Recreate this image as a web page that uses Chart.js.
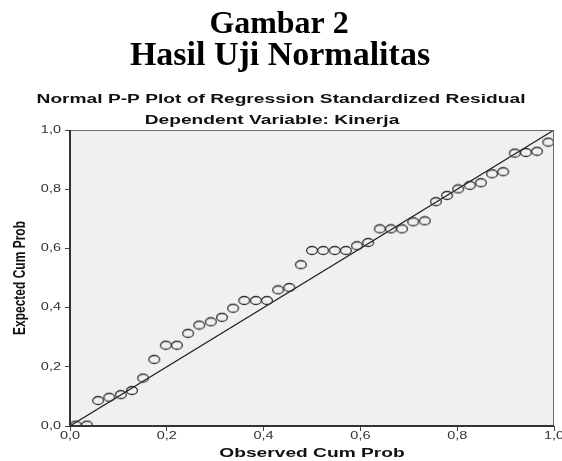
<!DOCTYPE html>
<html>
<head>
<meta charset="utf-8">
<script src="https://cdn.jsdelivr.net/npm/chart.js@4.4.1/dist/chart.umd.min.js"></script>
<style>
  html, body { margin: 0; padding: 0; background: #fff; }
  #wrap { width: 562px; height: 461px; position: relative; }
</style>
</head>
<body>
<div id="wrap"><canvas id="ppChart" width="562" height="461"></canvas></div>
<script>
// observed cumulative probability (x) and expected cumulative probability (y)
const observedProb = [
  0.012, 0.035, 0.058, 0.081, 0.105, 0.128, 0.151, 0.174, 0.198, 0.221,
  0.244, 0.267, 0.291, 0.314, 0.337, 0.360, 0.384, 0.407, 0.430, 0.453,
  0.477, 0.500, 0.523, 0.547, 0.570, 0.593, 0.616, 0.640, 0.663, 0.686,
  0.709, 0.733, 0.756, 0.779, 0.802, 0.826, 0.849, 0.872, 0.895, 0.919,
  0.942, 0.965, 0.988
];
const expectedProb = [
  0.003, 0.003, 0.086, 0.097, 0.106, 0.120, 0.162, 0.225, 0.273, 0.273,
  0.313, 0.341, 0.352, 0.367, 0.398, 0.424, 0.424, 0.424, 0.460, 0.468,
  0.545, 0.593, 0.593, 0.593, 0.593, 0.609, 0.620, 0.666, 0.666, 0.666,
  0.690, 0.693, 0.758, 0.779, 0.801, 0.813, 0.822, 0.852, 0.859, 0.922,
  0.924, 0.928, 0.959
];
const refLine = [0, 1];
const tickValues = [0, 0.2, 0.4, 0.6, 0.8, 1.0];

const headingLines = ['Gambar 2', 'Hasil Uji Normalitas'];
const subtitleLines = ['Normal P-P Plot of Regression Standardized Residual', 'Dependent Variable: Kinerja'];
const xTitle = 'Observed Cum Prob';
const yTitle = 'Expected Cum Prob';

const points = observedProb.map((x, i) => ({ x: x, y: expectedProb[i] }));
const diagonal = refLine.map(v => ({ x: v, y: v }));

const fmtTick = v => v.toFixed(1).replace('.', ',');
const SANS = '"Liberation Sans", Arial, sans-serif';
const SERIF = '"Liberation Serif", "Times New Roman", serif';

// the SPSS graphic is stretched sideways, so markers are ellipses
function makeMarker() {
  const c = document.createElement('canvas');
  c.width = 14;
  c.height = 11;
  const g = c.getContext('2d');
  g.strokeStyle = '#333';
  g.lineWidth = 1.3;
  g.beginPath();
  g.ellipse(7, 5.5, 5.4, 4, 0, 0, Math.PI * 2);
  g.stroke();
  return c;
}

// text drawn with a horizontal stretch factor
function stretchText(ctx, text, x, y, font, sx, align, baseline) {
  ctx.save();
  ctx.translate(x, y);
  ctx.scale(sx, 1);
  ctx.font = font;
  ctx.textAlign = align || 'center';
  ctx.textBaseline = baseline || 'alphabetic';
  ctx.fillText(text, 0, 0);
  ctx.restore();
}

const decorations = {
  id: 'decorations',
  beforeDatasetsDraw(chart) {
    const a = chart.chartArea, ctx = chart.ctx;
    ctx.save();
    ctx.fillStyle = '#f0f0f0';
    ctx.fillRect(a.left, a.top, a.right - a.left, a.bottom - a.top);
    ctx.restore();
  },
  afterDraw(chart) {
    const a = chart.chartArea, ctx = chart.ctx;
    const xs = chart.scales.x, ys = chart.scales.y;

    // frame
    ctx.save();
    ctx.strokeStyle = '#6a6a6a';
    ctx.lineWidth = 1;
    ctx.beginPath();
    ctx.moveTo(a.left, a.top + 0.5);
    ctx.lineTo(a.right - 0.5, a.top + 0.5);
    ctx.lineTo(a.right - 0.5, a.bottom);
    ctx.stroke();
    ctx.strokeStyle = '#333';
    ctx.lineWidth = 2;
    ctx.beginPath();
    ctx.moveTo(a.left, a.top);
    ctx.lineTo(a.left, a.bottom);
    ctx.lineTo(a.right, a.bottom);
    ctx.stroke();
    ctx.restore();

    // headings
    ctx.save();
    ctx.fillStyle = '#000';
    stretchText(ctx, headingLines[0], 279, 33, 'bold 31px ' + SERIF, 1.03);
    stretchText(ctx, headingLines[1], 280, 65, 'bold 33px ' + SERIF, 1.03);
    ctx.fillStyle = '#111';
    stretchText(ctx, subtitleLines[0], 281, 103, 'bold 13.5px ' + SANS, 1.42);
    stretchText(ctx, subtitleLines[1], 272, 124, 'bold 13.5px ' + SANS, 1.42);

    // tick labels
    ctx.fillStyle = '#333';
    tickValues.forEach(v => {
      stretchText(ctx, fmtTick(v), xs.getPixelForValue(v), 439, '10.5px ' + SANS, 1.38, 'center');
      stretchText(ctx, fmtTick(v), 61, ys.getPixelForValue(v), '10.5px ' + SANS, 1.38, 'right', 'middle');
    });

    // axis titles
    ctx.fillStyle = '#111';
    stretchText(ctx, xTitle, (a.left + a.right) / 2, 457, 'bold 13.5px ' + SANS, 1.42);
    ctx.save();
    ctx.translate(20, (a.top + a.bottom) / 2);
    ctx.scale(1.4, 1);
    ctx.rotate(-Math.PI / 2);
    ctx.font = 'bold 12px ' + SANS;
    ctx.textAlign = 'center';
    ctx.textBaseline = 'middle';
    ctx.fillText(yTitle, 0, 0);
    ctx.restore();
    ctx.restore();
  }
};

new Chart(document.getElementById('ppChart'), {
  type: 'scatter',
  data: {
    datasets: [
      {
        label: 'Residual',
        data: points,
        pointStyle: makeMarker(),
        pointRadius: 5
      },
      {
        type: 'line',
        label: 'Diagonal',
        data: diagonal,
        borderColor: '#222',
        borderWidth: 1.2,
        pointRadius: 0,
        fill: false
      }
    ]
  },
  options: {
    responsive: false,
    animation: false,
    layout: { padding: { top: 130, right: 8, left: 0, bottom: 0 } },
    plugins: {
      legend: { display: false },
      tooltip: { enabled: false }
    },
    scales: {
      x: {
        type: 'linear',
        min: 0,
        max: 1,
        afterBuildTicks: s => { s.ticks = tickValues.map(v => ({ value: v })); },
        afterFit: s => { s.height = 35; },
        ticks: { display: false },
        grid: { display: true, drawOnChartArea: false, drawTicks: true, tickLength: 5, color: '#444' },
        border: { display: false }
      },
      y: {
        type: 'linear',
        min: 0,
        max: 1,
        afterBuildTicks: s => { s.ticks = tickValues.map(v => ({ value: v })); },
        afterFit: s => { s.width = 70; },
        ticks: { display: false },
        grid: { display: true, drawOnChartArea: false, drawTicks: true, tickLength: 5, color: '#444' },
        border: { display: false }
      }
    }
  },
  plugins: [decorations]
});
</script>
</body>
</html>
